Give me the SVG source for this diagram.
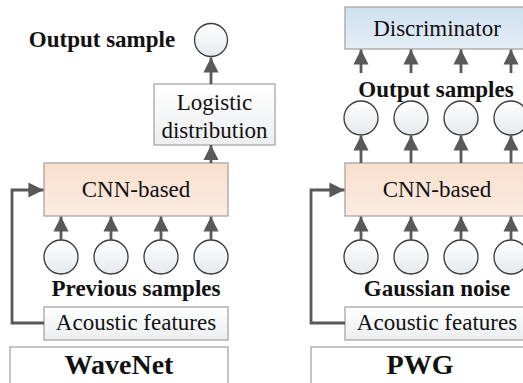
<svg xmlns="http://www.w3.org/2000/svg" width="523" height="383" viewBox="0 0 523 383">
<defs>
<linearGradient id="gPeach" x1="0" y1="0" x2="0" y2="1"><stop offset="0" stop-color="#f8dfcd"/><stop offset="1" stop-color="#fcece1"/></linearGradient>
<linearGradient id="gBlue" x1="0" y1="0" x2="0" y2="1"><stop offset="0" stop-color="#cfe0ef"/><stop offset="1" stop-color="#e4eef7"/></linearGradient>
<linearGradient id="gGrey" x1="0" y1="0" x2="0" y2="1"><stop offset="0" stop-color="#ffffff"/><stop offset="1" stop-color="#eceef0"/></linearGradient>
<linearGradient id="gCirc" x1="0" y1="0" x2="0" y2="1"><stop offset="0" stop-color="#ffffff"/><stop offset="1" stop-color="#e6e9ec"/></linearGradient>
<marker id="ah" viewBox="0 0 10 10" refX="10" refY="5" markerWidth="5.4" markerHeight="5.4" orient="auto" markerUnits="strokeWidth">
<path d="M0,0 L10,5 L0,10 Z" fill="#595959"/>
</marker>
</defs>
<style>
.box{stroke:#a6a6a6;stroke-width:1.3}
.peach{fill:url(#gPeach)}
.blue{fill:url(#gBlue)}
.grey{fill:url(#gGrey)}
.white{fill:#ffffff}
.circ{fill:url(#gCirc);stroke:#3a3a3a;stroke-width:1.3}
text{font-family:'Liberation Serif','Times New Roman',serif;font-size:23px;fill:#111;text-anchor:middle}
.b{font-weight:bold}
.big{font-size:28px}
.c{fill:none;stroke:#595959;stroke-width:2.8;marker-end:url(#ah)}
</style>
<g id="wavenet-output">
<text class="b" x="102" y="47">Output sample</text>
<circle class="circ" cx="211" cy="40" r="16.5"/>
</g>
<g id="wavenet-logistic">
<rect class="box grey" x="154" y="84" width="121" height="61"/>
<text x="214.5" y="110">Logistic</text>
<text x="214.5" y="138">distribution</text>
</g>
<g id="wavenet-cnn">
<rect class="box peach" x="44" y="163" width="184" height="53"/>
<text x="136" y="197">CNN-based</text>
</g>
<g id="wavenet-prev">
<circle class="circ" cx="61" cy="257" r="17"/>
<circle class="circ" cx="111" cy="257" r="17"/>
<circle class="circ" cx="161" cy="257" r="17"/>
<circle class="circ" cx="211" cy="257" r="17"/>
<text class="b" x="136" y="296">Previous samples</text>
</g>
<g id="wavenet-acoustic">
<rect class="box grey" x="44" y="307" width="184" height="33"/>
<text x="136" y="330">Acoustic features</text>
</g>
<g id="wavenet-label">
<rect class="box white" x="10" y="347" width="218" height="40"/>
<text class="b big" x="119" y="374">WaveNet</text>
</g>
<g id="pwg-disc">
<rect class="box blue" x="345" y="7" width="184" height="42"/>
<text x="437" y="36">Discriminator</text>
</g>
<g id="pwg-out">
<text class="b" x="436" y="97">Output samples</text>
<circle class="circ" cx="361" cy="118" r="17"/>
<circle class="circ" cx="411" cy="118" r="17"/>
<circle class="circ" cx="461" cy="118" r="17"/>
<circle class="circ" cx="511" cy="118" r="17"/>
</g>
<g id="pwg-cnn">
<rect class="box peach" x="345" y="163" width="184" height="53"/>
<text x="437" y="197">CNN-based</text>
</g>
<g id="pwg-noise">
<circle class="circ" cx="361" cy="257" r="17"/>
<circle class="circ" cx="411" cy="257" r="17"/>
<circle class="circ" cx="461" cy="257" r="17"/>
<circle class="circ" cx="511" cy="257" r="17"/>
<text class="b" x="437" y="296">Gaussian noise</text>
</g>
<g id="pwg-acoustic">
<rect class="box grey" x="345" y="307" width="184" height="33"/>
<text x="437" y="330">Acoustic features</text>
</g>
<g id="pwg-label">
<rect class="box white" x="311" y="347" width="218" height="40"/>
<text class="b big" x="420" y="374">PWG</text>
</g>
<g id="connectors">
<path class="c" d="M211,84 V57.5"/>
<path class="c" d="M211,163 V145"/>
<path class="c" d="M61,240 V216.5"/>
<path class="c" d="M111,240 V216.5"/>
<path class="c" d="M161,240 V216.5"/>
<path class="c" d="M211,240 V216.5"/>
<path class="c" d="M44,323 H12 V190 H43.5"/>
<path class="c" d="M361,73 V49.5"/>
<path class="c" d="M411,73 V49.5"/>
<path class="c" d="M461,73 V49.5"/>
<path class="c" d="M511,73 V49.5"/>
<path class="c" d="M361,163 V135.5"/>
<path class="c" d="M411,163 V135.5"/>
<path class="c" d="M461,163 V135.5"/>
<path class="c" d="M511,163 V135.5"/>
<path class="c" d="M361,240 V216.5"/>
<path class="c" d="M411,240 V216.5"/>
<path class="c" d="M461,240 V216.5"/>
<path class="c" d="M511,240 V216.5"/>
<path class="c" d="M345,323 H311 V190 H344.5"/>
</g>
</svg>
